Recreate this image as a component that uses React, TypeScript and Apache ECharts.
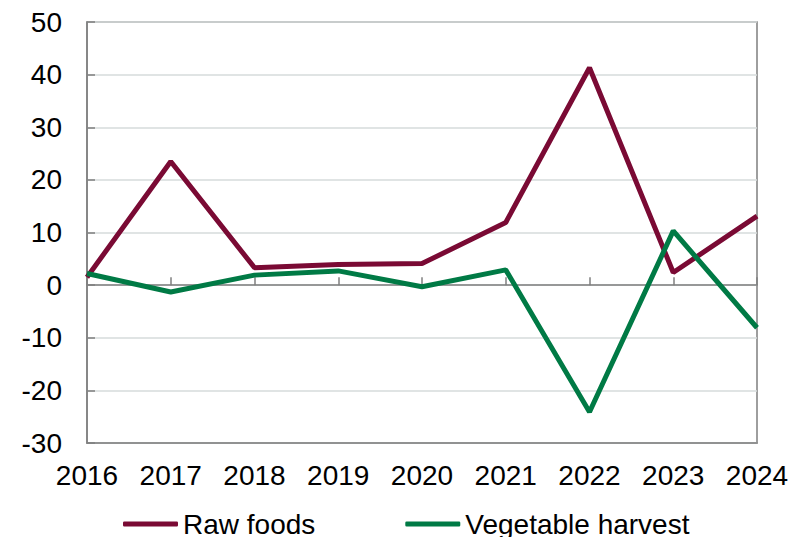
import React, { useEffect, useRef } from "react";
import * as echarts from "echarts";

const years = ["2016", "2017", "2018", "2019", "2020", "2021", "2022", "2023", "2024"];
const rawFoods = [1.5, 23.5, 3.3, 3.9, 4.1, 11.9, 41.3, 2.4, 13.1];
const vegetableHarvest = [2.2, -1.3, 1.9, 2.7, -0.3, 2.9, -24.1, 10.3, -8.1];

const RAW_COLOR = "#7A0A34";
const VEG_COLOR = "#007A45";
const AXIS_COLOR = "#7F7F7F";
const GRID_COLOR = "#D6DBDB";
const FONT = "'Liberation Sans', Arial, sans-serif";

export default function App() {
  const ref = useRef<HTMLDivElement>(null);

  useEffect(() => {
    if (!ref.current) return;
    const chart = echarts.init(ref.current, undefined, { renderer: "svg" });
    chart.setOption({
      animation: false,
      backgroundColor: "#FFFFFF",
      textStyle: { fontFamily: FONT },
      grid: {
        left: 87,
        right: 37,
        top: 22,
        bottom: 94,
        show: true,
        borderColor: AXIS_COLOR,
        borderWidth: 1.5,
        containLabel: false,
      },
      legend: {
        left: 118,
        top: 505,
        itemWidth: 55,
        itemHeight: 5,
        itemGap: 90,
        icon: "roundRect",
        textStyle: { fontSize: 28, color: "#000", fontFamily: FONT },
        data: ["Raw foods", "Vegetable harvest"],
      },
      xAxis: [
        {
          type: "category",
          data: years,
          boundaryGap: false,
          position: "bottom",
          axisLine: { onZero: false, lineStyle: { color: AXIS_COLOR, width: 1.5 } },
          axisTick: { show: false },
          axisLabel: { fontSize: 28, color: "#000", margin: 18, fontFamily: FONT },
          splitLine: { show: false },
        },
        {
          type: "category",
          data: years,
          boundaryGap: false,
          position: "bottom",
          axisLine: { onZero: true, lineStyle: { color: AXIS_COLOR, width: 1.5 } },
          axisTick: { show: true, inside: true, length: 8, lineStyle: { color: AXIS_COLOR, width: 1.5 } },
          axisLabel: { show: false },
          splitLine: { show: false },
        },
      ],
      yAxis: {
        type: "value",
        min: -30,
        max: 50,
        interval: 10,
        axisLine: { show: true, lineStyle: { color: AXIS_COLOR, width: 1.5 } },
        axisTick: { show: true, inside: true, length: 8, lineStyle: { color: AXIS_COLOR, width: 1.5 } },
        axisLabel: { fontSize: 28, color: "#000", margin: 25, fontFamily: FONT },
        splitLine: { show: true, lineStyle: { color: GRID_COLOR, width: 1.5 } },
      },
      series: [
        {
          name: "Raw foods",
          type: "line",
          data: rawFoods,
          xAxisIndex: 0,
          showSymbol: false,
          symbol: "none",
          itemStyle: { color: RAW_COLOR },
          lineStyle: { color: RAW_COLOR, width: 5 },
          z: 3,
        },
        {
          name: "Vegetable harvest",
          type: "line",
          data: vegetableHarvest,
          xAxisIndex: 0,
          showSymbol: false,
          symbol: "none",
          itemStyle: { color: VEG_COLOR },
          lineStyle: { color: VEG_COLOR, width: 5 },
          z: 4,
        },
      ],
    });
    return () => chart.dispose();
  }, []);

  return <div ref={ref} style={{ width: 794, height: 537, position: "absolute", left: 0, top: 0 }} />;
}
